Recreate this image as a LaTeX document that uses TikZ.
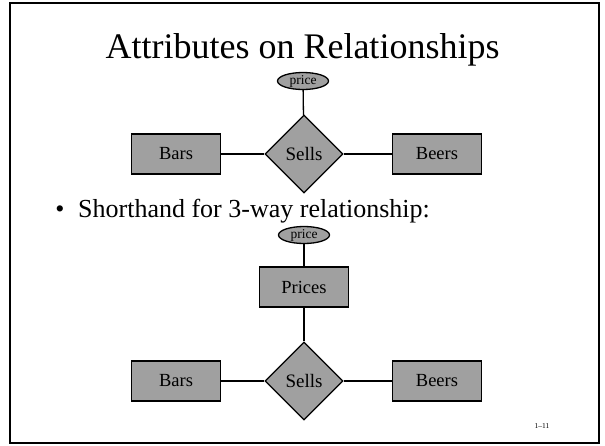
\documentclass[tikz,border=0pt]{standalone}
\usepackage{fontspec}
\setmainfont{Liberation Serif}
\usetikzlibrary{shapes.geometric}
\definecolor{boxgray}{RGB}{160,160,160}
\begin{document}
\begin{tikzpicture}[x=1pt,y=-1pt,
  entity/.style={draw=black, line width=1.3pt, fill=boxgray, rectangle,
    minimum width=89pt, minimum height=40pt, inner sep=0pt,
    font=\fontsize{18.5}{20}\selectfont},
  relship/.style={draw=black, line width=1.3pt, fill=boxgray, diamond,
    minimum width=78pt, minimum height=78pt, inner sep=0pt,
    font=\fontsize{19}{20}\selectfont},
  attr/.style={draw=black, line width=1.3pt, fill=boxgray, ellipse,
    minimum width=51pt, minimum height=17pt, inner sep=0pt,
    font=\fontsize{13.5}{14}\selectfont},
  link/.style={draw=black, line width=1.3pt},
  slidetext/.style={inner sep=0pt, anchor=base}]
\useasboundingbox (0,0) rectangle (605,445);
% slide frame
\draw[line width=2pt] (10,3) rectangle (599,443);

% title and bullet
\node[slidetext, font=\fontsize{36}{40}\selectfont] (title) at (302.5,58) {Attributes on Relationships};
\node[slidetext, font=\fontsize{26}{30}\selectfont] (bullet) at (60,217) {•};
\node[slidetext, anchor=base west, font=\fontsize{26}{30}\selectfont] (point) at (78,217) {Shorthand for 3-way relationship:};

% first diagram: attribute on the relationship
\node[attr] (priceA) at (303,81) {price};
\node[relship] (sellsA) at (304,154) {Sells};
\node[entity] (barsA) at (176,154) {Bars};
\node[entity] (beersA) at (437,154) {Beers};
\draw[link] (priceA) -- (sellsA);
\draw[link] (barsA) -- (sellsA);
\draw[link] (sellsA) -- (beersA);

% second diagram: attribute moved to an entity set
\node[attr] (priceB) at (304,235) {price};
\node[entity] (prices) at (304,287) {Prices};
\node[relship] (sellsB) at (304,381) {Sells};
\node[entity] (barsB) at (176,381) {Bars};
\node[entity] (beersB) at (437,381) {Beers};
\draw[link] (priceB) -- (prices);
\draw[link] (prices) -- (sellsB);
\draw[link] (barsB) -- (sellsB);
\draw[link] (sellsB) -- (beersB);

% slide number
\node[slidetext, font=\fontsize{7.5}{8}\selectfont] (slideno) at (542,428) {1–11};
\end{tikzpicture}
\end{document}
